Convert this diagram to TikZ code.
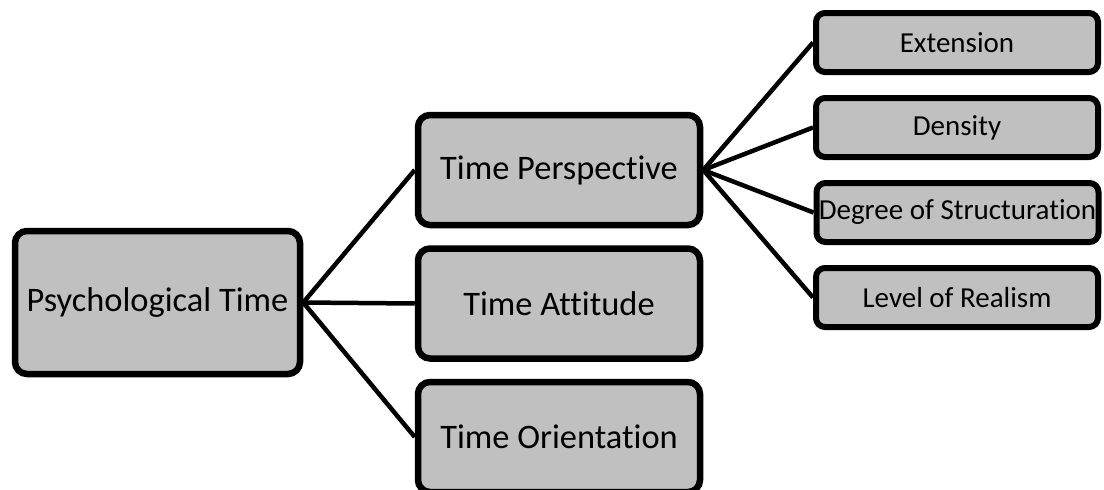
\documentclass[tikz,border=0pt]{standalone}
\usepackage{fontspec}
\setmainfont{Carlito}[Ligatures={NoCommon,NoContextual}]
\tikzset{
  bigbox/.style={rectangle, rounded corners=12pt, fill=boxgray, draw=black, line width=6.5pt, minimum width=282pt, minimum height=110pt, inner sep=0pt, font=\fontsize{34.4}{40}\selectfont},
  smallbox/.style={rectangle, rounded corners=9pt, fill=boxgray, draw=black, line width=6pt, minimum width=282pt, minimum height=59pt, inner sep=0pt, font=\fontsize{29}{34}\selectfont},
  link/.style={line width=4.5pt}
}
\definecolor{boxgray}{HTML}{C0C0C0}
\begin{document}
\begin{tikzpicture}[x=1pt,y=-1pt]
\useasboundingbox (0,0) rectangle (1104,490);
\clip (0,0) rectangle (1104,490);
\node [bigbox, minimum width=285pt, minimum height=143pt] (psy) at (157.5,302.5) {Psychological Time};
\node [bigbox] (persp) at (559,170) {Time Perspective};
\node [bigbox] (att) at (559,303.5) {Time Attitude};
\node [bigbox] (orient) at (559,437) {Time Orientation};
\node [smallbox] (ext) at (957,42.5) {Extension};
\node [smallbox] (dens) at (957,127.5) {Density};
\node [smallbox] (struct) at (957.5,212.5) {Degree of Structuration};
\node [smallbox] (real) at (957,297.5) {Level of Realism};
\draw [link] (psy.east) -- (persp.west);
\draw [link] (psy.east) -- (att.west);
\draw [link] (psy.east) -- (orient.west);
\draw [link] (persp.east) -- (ext.west);
\draw [link] (persp.east) -- (dens.west);
\draw [link] (persp.east) -- (struct.west);
\draw [link] (persp.east) -- (real.west);
\end{tikzpicture}
\end{document}
